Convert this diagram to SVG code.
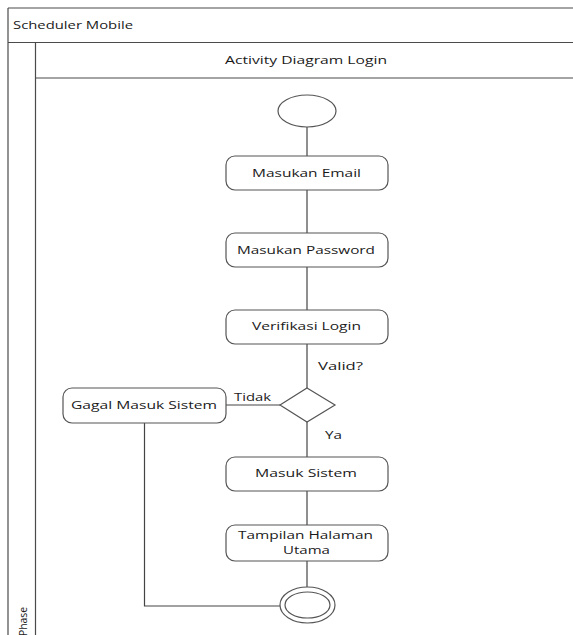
<svg xmlns="http://www.w3.org/2000/svg" width="573" height="635" viewBox="0 0 573 635">
  <style>
    .frame { stroke: #4a4a4a; stroke-width: 1.2; fill: none; }
    .act { fill: #ffffff; stroke: #555555; stroke-width: 1.2; }
    .edge { stroke: #444444; stroke-width: 1.2; fill: none; }
    .lbl { font-family: "Open Sans", "Liberation Sans", sans-serif; font-size: 11.5px; fill: #1a1a1a; }
  </style>
  <rect width="573" height="635" fill="#ffffff"/>

  <!-- swimlane frame -->
  <g id="frame">
    <line class="frame" x1="8" y1="8" x2="573" y2="8"/>
    <line class="frame" x1="8" y1="8" x2="8" y2="635"/>
    <line class="frame" x1="8" y1="42.5" x2="573" y2="42.5"/>
    <line class="frame" x1="35.5" y1="42.5" x2="35.5" y2="635"/>
    <line class="frame" x1="35.5" y1="78" x2="573" y2="78"/>
    <text class="lbl" x="13" y="28.5" textLength="120" lengthAdjust="spacingAndGlyphs">Scheduler Mobile</text>
    <text class="lbl" x="225" y="63.5" textLength="162" lengthAdjust="spacingAndGlyphs">Activity Diagram Login</text>
    <text class="lbl" transform="translate(27,636) rotate(-90)" textLength="29" lengthAdjust="spacingAndGlyphs">Phase</text>
  </g>

  <!-- connectors -->
  <g id="connectors">
    <line class="edge" x1="307" y1="127" x2="307" y2="156"/>
    <line class="edge" x1="307" y1="190" x2="307" y2="233"/>
    <line class="edge" x1="307" y1="267" x2="307" y2="310"/>
    <line class="edge" x1="307" y1="344" x2="307" y2="388"/>
    <line class="edge" x1="307" y1="422" x2="307" y2="457"/>
    <line class="edge" x1="280" y1="405" x2="226" y2="405"/>
    <line class="edge" x1="307" y1="491" x2="307" y2="525"/>
    <line class="edge" x1="307" y1="561" x2="307" y2="587"/>
    <polyline class="edge" points="144.5,423 144.5,606 280,606"/>
    <text class="lbl" x="318" y="370" textLength="45" lengthAdjust="spacingAndGlyphs">Valid?</text>
    <text class="lbl" x="234" y="400.5" textLength="37" lengthAdjust="spacingAndGlyphs">Tidak</text>
    <text class="lbl" x="325" y="438.5" textLength="17" lengthAdjust="spacingAndGlyphs">Ya</text>
  </g>

  <g id="start">
    <ellipse class="act" cx="307" cy="111" rx="29" ry="16"/>
  </g>

  <g id="masukan-email">
    <rect class="act" x="226" y="156" width="162" height="34" rx="9"/>
    <text class="lbl" x="252" y="177" textLength="109" lengthAdjust="spacingAndGlyphs">Masukan Email</text>
  </g>

  <g id="masukan-password">
    <rect class="act" x="226" y="233" width="162" height="34" rx="9"/>
    <text class="lbl" x="237" y="253.5" textLength="138" lengthAdjust="spacingAndGlyphs">Masukan Password</text>
  </g>

  <g id="verifikasi-login">
    <rect class="act" x="226" y="310" width="162" height="34" rx="9"/>
    <text class="lbl" x="252" y="330" textLength="109" lengthAdjust="spacingAndGlyphs">Verifikasi Login</text>
  </g>

  <g id="decision">
    <polygon class="act" points="307,388 335,405 307,422 280,405"/>
  </g>

  <g id="gagal-masuk">
    <rect class="act" x="63" y="388" width="163" height="35" rx="9"/>
    <text class="lbl" x="71" y="408.5" textLength="146" lengthAdjust="spacingAndGlyphs">Gagal Masuk Sistem</text>
  </g>

  <g id="masuk-sistem">
    <rect class="act" x="226" y="457" width="162" height="34" rx="9"/>
    <text class="lbl" x="255" y="477" textLength="102" lengthAdjust="spacingAndGlyphs">Masuk Sistem</text>
  </g>

  <g id="halaman-utama">
    <rect class="act" x="226" y="525" width="162" height="36" rx="9"/>
    <text class="lbl" x="238" y="539" textLength="135" lengthAdjust="spacingAndGlyphs">Tampilan Halaman</text>
    <text class="lbl" x="283" y="554" textLength="47" lengthAdjust="spacingAndGlyphs">Utama</text>
  </g>

  <g id="end">
    <ellipse class="act" cx="307.5" cy="605" rx="27.5" ry="18"/>
    <ellipse class="act" cx="307.5" cy="605" rx="22.5" ry="13"/>
  </g>
</svg>
